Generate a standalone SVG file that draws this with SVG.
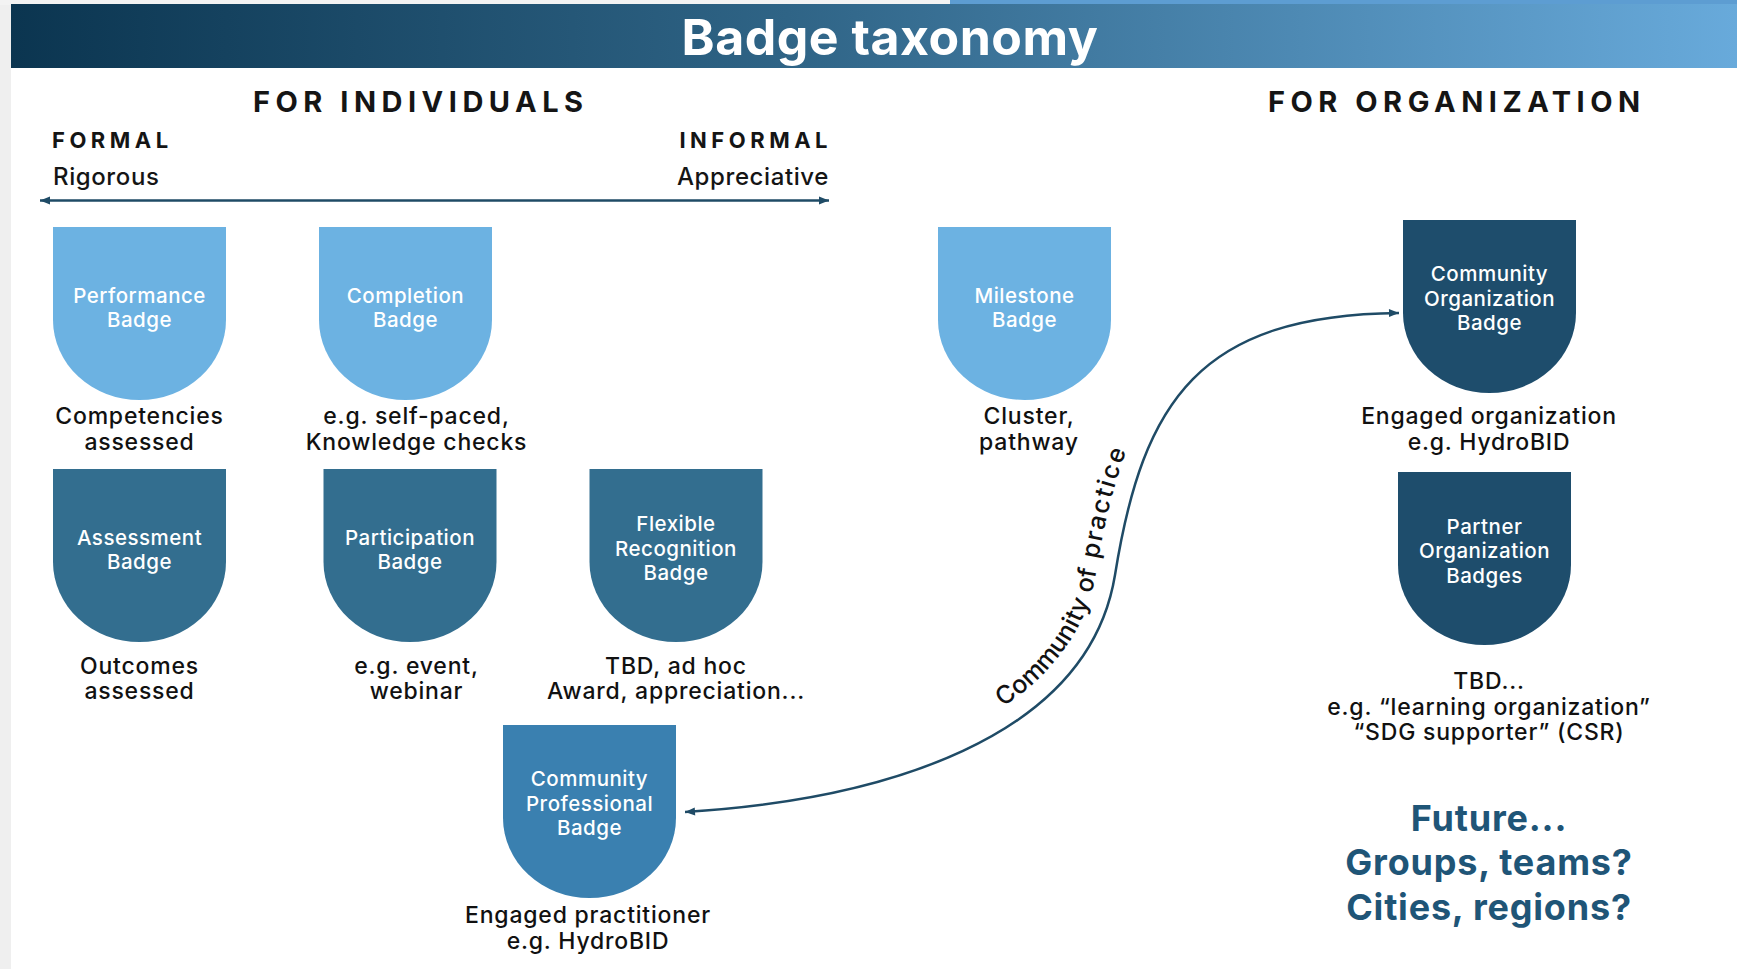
<svg xmlns="http://www.w3.org/2000/svg" xmlns:xlink="http://www.w3.org/1999/xlink" width="1737" height="969" viewBox="0 0 1737 969">
<style>
  .title { font-family: Inter, "Noto Sans", "Liberation Sans", sans-serif; font-size: 50px; font-weight: 700; fill: #ffffff; letter-spacing: 0.5px; }
  .sect { font-family: Inter, "Noto Sans", "Liberation Sans", sans-serif; font-size: 29px; font-weight: 700; fill: #151515; letter-spacing: 5.5px; }
  .axis { font-family: Inter, "Noto Sans", "Liberation Sans", sans-serif; font-size: 22px; font-weight: 700; fill: #151515; letter-spacing: 4.5px; }
  .axis2 { font-family: Inter, "Noto Sans", "Liberation Sans", sans-serif; font-size: 24px; font-weight: 500; fill: #151515; letter-spacing: 0.6px; }
  .btxt { font-family: Inter, "Noto Sans", "Liberation Sans", sans-serif; font-size: 20.5px; font-weight: 500; fill: #ffffff; text-anchor: middle; letter-spacing: 0.5px; }
  .lbl { font-family: Inter, "Noto Sans", "Liberation Sans", sans-serif; font-size: 23px; font-weight: 500; fill: #111111; text-anchor: middle; letter-spacing: 0.8px; }
  .future { font-family: Inter, "Noto Sans", "Liberation Sans", sans-serif; font-size: 36px; font-weight: 700; fill: #1f5577; text-anchor: middle; letter-spacing: 0.8px; }
  .cop { font-family: Inter, "Noto Sans", "Liberation Sans", sans-serif; font-size: 25px; font-weight: 500; fill: #111111; letter-spacing: 1.6px; }
  .light { fill: #6cb2e2; }
  .mid { fill: #336e8f; }
  .dark { fill: #1e4d6c; }
  .prof { fill: #3a80b0; }
  .conn { fill: none; stroke: #1f4b66; stroke-width: 2.5; }
</style>
<defs>
  <linearGradient id="bar" x1="0" y1="0" x2="1" y2="0">
    <stop offset="0" stop-color="#0b3550"/>
    <stop offset="0.45" stop-color="#2f6486"/>
    <stop offset="1" stop-color="#68aadb"/>
  </linearGradient>
  <path id="badge" d="M0,0 H173 V93 A86.5 80 0 0 1 0,93 Z"/>
  <marker id="ah" viewBox="0 0 10 10" refX="10" refY="5" markerWidth="11" markerHeight="10" orient="auto-start-reverse" markerUnits="userSpaceOnUse">
    <path d="M0,1 L10,5 L0,9 Z" fill="#1f4b66"/>
  </marker>
</defs>

<rect x="0" y="0" width="1737" height="969" fill="#ffffff"/>
<rect x="0" y="0" width="11" height="969" fill="#efefef"/>
<rect x="0" y="0" width="950" height="5" fill="#f3f3f3"/>
<rect x="950" y="0" width="787" height="5" fill="#5d9dd2"/>

<g id="header">
  <rect x="11" y="4" width="1726" height="64" fill="url(#bar)"/>
  <text class="title" x="890" y="55" text-anchor="middle">Badge taxonomy</text>
</g>

<g id="sections">
  <text class="sect" x="253" y="112">FOR INDIVIDUALS</text>
  <text class="sect" x="1268" y="112">FOR ORGANIZATION</text>
  <text class="axis" x="52" y="148">FORMAL</text>
  <text class="axis2" x="53" y="185">Rigorous</text>
  <text class="axis" x="832" y="148" text-anchor="end">INFORMAL</text>
  <text class="axis2" x="829" y="185" text-anchor="end">Appreciative</text>
</g>

<g id="connectors">
  <line class="conn" x1="40" y1="200.5" x2="829" y2="200.5" marker-start="url(#ah)" marker-end="url(#ah)"/>
  <path id="cop-path" class="conn" d="M685,812 C880,800 1088,740 1115,575 C1143,400 1200,315 1399,313" marker-start="url(#ah)" marker-end="url(#ah)"/>
  <text class="cop" dy="-19"><textPath href="#cop-path" xlink:href="#cop-path" startOffset="498" text-anchor="middle">Community of practice</textPath></text>
</g>

<g id="performance">
  <use href="#badge" xlink:href="#badge" class="light" transform="translate(53,227)"/>
  <text class="btxt" x="139.5" y="303">Performance</text>
  <text class="btxt" x="139.5" y="327">Badge</text>
  <text class="lbl" x="139.5" y="424">Competencies</text>
  <text class="lbl" x="139.5" y="450">assessed</text>
</g>

<g id="completion">
  <use href="#badge" xlink:href="#badge" class="light" transform="translate(319,227)"/>
  <text class="btxt" x="405.5" y="303">Completion</text>
  <text class="btxt" x="405.5" y="327">Badge</text>
  <text class="lbl" x="416.5" y="424">e.g. self-paced,</text>
  <text class="lbl" x="416.5" y="450">Knowledge checks</text>
</g>

<g id="milestone">
  <use href="#badge" xlink:href="#badge" class="light" transform="translate(938,227)"/>
  <text class="btxt" x="1024.5" y="303">Milestone</text>
  <text class="btxt" x="1024.5" y="327">Badge</text>
  <text class="lbl" x="1029" y="424">Cluster,</text>
  <text class="lbl" x="1029" y="450">pathway</text>
</g>

<g id="community-organization">
  <use href="#badge" xlink:href="#badge" class="dark" transform="translate(1403,220)"/>
  <text class="btxt" x="1489.5" y="281">Community</text>
  <text class="btxt" x="1489.5" y="305.5">Organization</text>
  <text class="btxt" x="1489.5" y="330">Badge</text>
  <text class="lbl" x="1489" y="424">Engaged organization</text>
  <text class="lbl" x="1489" y="450">e.g. HydroBID</text>
</g>

<g id="assessment">
  <use href="#badge" xlink:href="#badge" class="mid" transform="translate(53,469)"/>
  <text class="btxt" x="139.5" y="545">Assessment</text>
  <text class="btxt" x="139.5" y="569">Badge</text>
  <text class="lbl" x="139.5" y="673.5">Outcomes</text>
  <text class="lbl" x="139.5" y="699">assessed</text>
</g>

<g id="participation">
  <use href="#badge" xlink:href="#badge" class="mid" transform="translate(323.5,469)"/>
  <text class="btxt" x="410" y="545">Participation</text>
  <text class="btxt" x="410" y="569">Badge</text>
  <text class="lbl" x="416.5" y="673.5">e.g. event,</text>
  <text class="lbl" x="416.5" y="699">webinar</text>
</g>

<g id="flexible-recognition">
  <use href="#badge" xlink:href="#badge" class="mid" transform="translate(589.5,469)"/>
  <text class="btxt" x="676" y="531">Flexible</text>
  <text class="btxt" x="676" y="555.5">Recognition</text>
  <text class="btxt" x="676" y="580">Badge</text>
  <text class="lbl" x="676" y="673.5">TBD, ad hoc</text>
  <text class="lbl" x="676" y="699">Award, appreciation...</text>
</g>

<g id="partner-organization">
  <use href="#badge" xlink:href="#badge" class="dark" transform="translate(1398,472)"/>
  <text class="btxt" x="1484.5" y="533.5">Partner</text>
  <text class="btxt" x="1484.5" y="558">Organization</text>
  <text class="btxt" x="1484.5" y="582.5">Badges</text>
  <text class="lbl" x="1489" y="689">TBD...</text>
  <text class="lbl" x="1489" y="714.5">e.g. “learning organization”</text>
  <text class="lbl" x="1489" y="740">“SDG supporter” (CSR)</text>
</g>

<g id="community-professional">
  <use href="#badge" xlink:href="#badge" class="prof" transform="translate(503,725)"/>
  <text class="btxt" x="589.5" y="786">Community</text>
  <text class="btxt" x="589.5" y="810.5">Professional</text>
  <text class="btxt" x="589.5" y="835">Badge</text>
  <text class="lbl" x="588" y="923">Engaged practitioner</text>
  <text class="lbl" x="588" y="948.5">e.g. HydroBID</text>
</g>

<g id="future">
  <text class="future" x="1489" y="831">Future...</text>
  <text class="future" x="1489" y="875">Groups, teams?</text>
  <text class="future" x="1489" y="919.5">Cities, regions?</text>
</g>
</svg>
